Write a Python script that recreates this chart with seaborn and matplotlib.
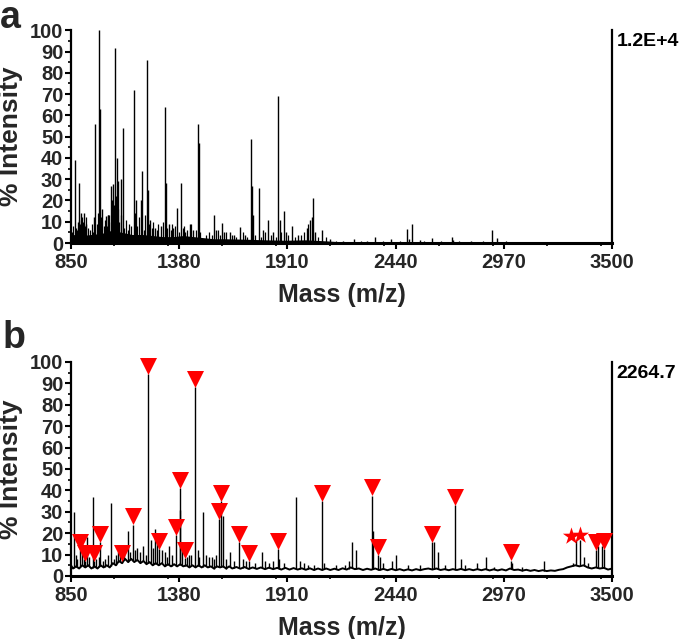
import numpy as np
import pandas as pd
import seaborn as sns
from matplotlib import pyplot as plt
from matplotlib.ticker import MultipleLocator

# ---- panel a : main peaks (m/z, % intensity), full scale 1.2E+4
a_mz = [869, 876, 883, 891, 898, 912, 922, 962, 970, 987, 991, 1004, 1020, 1030,
        1046, 1055, 1066, 1074, 1080, 1093, 1104, 1157, 1168, 1193, 1198, 1222,
        1228, 1239, 1260, 1290, 1311, 1315, 1330, 1350, 1371, 1388, 1410, 1433,
        1450, 1471, 1475, 1550, 1560, 1589, 1600, 1629, 1650, 1676, 1700, 1732,
        1735, 1740, 1769, 1790, 1815, 1840, 1866, 1874, 1892, 1905, 1930, 1960,
        2005, 2020, 2030, 2035, 2045, 2080, 2120, 2180, 2238, 2300, 2340, 2415,
        2494, 2503, 2522, 2560, 2616, 2718, 2722, 2810, 2914, 2936, 3050]
a_int = [39, 7, 10, 28, 14, 14, 9, 12, 56, 100, 63, 16, 12.5, 13,
         27, 27.5, 91.5, 40, 29, 30, 54, 72, 20, 20, 34, 86,
         25, 11, 7, 8, 64, 28, 9, 7, 16.5, 28, 5, 9,
         6, 56, 47, 13, 6, 9.5, 5, 5, 4, 7.5, 4, 49,
         27, 13, 26, 6, 11, 5, 69, 11, 15, 5, 8, 4,
         7, 11, 12, 21, 5, 6, 2, 1, 1.7, 1, 3, 2,
         6.7, 2, 9, 1.5, 2.5, 3, 1.5, 1, 6, 2.3, 0.6]

# panel a : small peaks forming the noise floor
a_minor_mz = [855, 862, 880, 887, 895, 902, 908, 918, 925, 933, 945, 952, 958, 978,
              983, 995, 1010, 1015, 1025, 1033, 1037, 1044, 1052, 1060, 1070, 1078,
              1085, 1095, 1112, 1118, 1128, 1135, 1146, 1163, 1172, 1185, 1206, 1214,
              1233, 1246, 1252, 1270, 1278, 1300, 1322, 1340, 1345, 1360, 1378, 1398,
              1405, 1420, 1440, 1460, 1482, 1510, 1525, 1540, 1570, 1580, 1610, 1640,
              1660, 1690, 1710, 1750, 1780, 1800, 1830, 1855, 1880, 1915, 1945, 1975,
              1990, 2010, 2060, 2100, 2150, 2270, 2380, 2460, 2580, 2660, 2750, 2870,
              2980, 3100, 3200]
a_minor_int = [5, 8, 6, 11, 9, 12, 10, 8, 12, 7, 6, 9, 5, 9,
               14, 12, 8, 11, 8, 13, 13, 10, 20, 18, 22, 16,
               10, 13, 7, 11, 6, 9, 8, 14, 8, 12, 6, 13,
               9, 7, 10, 6, 9, 10, 7, 6, 9, 8, 5, 7,
               8, 6, 9, 6, 5, 4, 5, 4, 6, 4, 5, 4,
               3, 5, 3, 4, 3, 5, 4, 3, 5, 4, 3, 4,
               5, 9, 3, 3, 1, 1, 1, 1, 1, 1, 1, 1,
               1, 0.6, 0.5]

# panel a : dense grass envelope
a_floor_mz = [850, 860, 900, 950, 1000, 1050, 1100, 1150, 1200, 1250, 1300, 1350,
              1400, 1450, 1500, 1550, 1600, 1700, 1800, 1900, 2000, 2100, 2150,
              2200, 2500, 3000, 3500]
a_floor_int = [3, 4, 3.5, 4, 4.5, 6, 5, 4, 4, 3.5, 3, 3,
               3.5, 3, 2.5, 2, 2, 1.8, 1.5, 1.3, 1.5, 1, 0.7,
               0.5, 0.5, 0.4, 0.3]

# ---- panel b : baseline
b_base_mz = [850, 860, 875, 890, 905, 920, 935, 950, 965, 980, 995, 1010, 1025, 1040,
             1055, 1070, 1085, 1100, 1115, 1130, 1145, 1160, 1175, 1190, 1205, 1220,
             1235, 1250, 1265, 1280, 1295, 1310, 1325, 1340, 1355, 1370, 1385, 1400,
             1415, 1430, 1445, 1460, 1475, 1490, 1505, 1520, 1535, 1550, 1565, 1580,
             1595, 1610, 1625, 1640, 1660, 1680, 1700, 1720, 1740, 1760, 1780, 1800,
             1820, 1840, 1860, 1880, 1900, 1920, 1940, 1960, 1980, 2000, 2020, 2040,
             2060, 2080, 2100, 2120, 2140, 2160, 2180, 2200, 2220, 2240, 2260, 2280,
             2300, 2320, 2340, 2360, 2380, 2400, 2420, 2440, 2460, 2480, 2500, 2520,
             2540, 2560, 2580, 2600, 2620, 2640, 2660, 2680, 2700, 2720, 2740, 2760,
             2780, 2800, 2820, 2840, 2860, 2880, 2900, 2920, 2940, 2960, 2980, 3000,
             3020, 3040, 3060, 3080, 3100, 3120, 3140, 3160, 3180, 3200, 3220, 3240,
             3260, 3280, 3300, 3320, 3340, 3360, 3380, 3400, 3420, 3440, 3460, 3480,
             3500]
b_base_int = [5, 3.5, 4.5, 3.5, 5, 4, 5, 3.5, 4.5, 3.5, 5, 4, 5, 4,
              6, 5, 7, 6, 8, 6.5, 8, 6.5, 7.5, 6, 7, 5.5,
              6.5, 5, 6, 5, 6, 4.5, 5.5, 4.5, 5.5, 4.5, 5.5, 4.5,
              5, 4, 5, 4, 5, 4, 5, 4, 4.5, 3.5, 4.5, 4,
              4.5, 3.5, 4.5, 3.5, 4.2, 3.4, 4.2, 3.3, 4, 3.3, 4, 3.2,
              3.9, 3.2, 3.8, 3, 3.8, 3, 3.7, 3, 3.6, 2.9, 3.6, 2.8,
              3.5, 2.8, 3.5, 2.8, 3.4, 2.8, 3.6, 3, 4, 3.2, 3.5, 2.8,
              3.4, 2.9, 3.5, 2.8, 3.3, 2.7, 3.3, 2.7, 3.2, 2.6, 3.1, 2.6,
              3.2, 2.7, 3.2, 3.5, 3, 3.5, 2.8, 3.2, 2.7, 3.2, 2.8, 3.3,
              2.7, 3.2, 2.7, 3.2, 2.7, 3.2, 2.6, 3.1, 2.6, 3.1, 2.6, 3.5,
              2.8, 3, 2.5, 2.9, 2.4, 2.8, 2.3, 2.7, 2.3, 2.6, 2.4, 2.9,
              3.2, 4, 4.5, 5, 4.5, 5, 4, 3.5, 4, 3.5, 3.8, 3,
              3.5]

# panel b : unmarked peaks
b_mz = [865, 873, 880, 906, 912, 930, 940, 956, 972, 985, 1005, 1015, 1030, 1044,
        1060, 1070, 1080, 1090, 1110, 1128, 1140, 1165, 1175, 1190, 1205, 1215,
        1240, 1250, 1262, 1270, 1295, 1310, 1320, 1332, 1345, 1386, 1392, 1420,
        1430, 1440, 1470, 1478, 1496, 1510, 1525, 1540, 1550, 1560, 1593, 1610,
        1630, 1650, 1690, 1705, 1750, 1786, 1800, 1820, 1840, 1870, 1895, 1952,
        1970, 1990, 2010, 2040, 2090, 2150, 2190, 2210, 2227, 2247, 2330, 2363,
        2380, 2423, 2440, 2500, 2560, 2628, 2648, 2680, 2762, 2780, 2840, 2881,
        2920, 3010, 3060, 3168, 3310, 3322, 3345, 3364, 3380, 3431, 3451]
b_int = [30, 10, 8, 17, 8, 18, 9, 37, 8, 9, 7, 8, 10, 34,
         8, 10, 11, 12, 13, 21, 11, 12, 13, 11, 14, 10,
         17, 13, 22, 16, 12, 11, 9, 14, 10, 31, 14, 9,
         10, 10, 12, 9, 30, 10, 9, 9, 8, 10, 28, 8,
         11, 7, 8, 7, 6, 11, 7, 6, 7, 8, 6, 37,
         7, 6, 5, 5, 6, 5, 5, 7, 16, 12, 21, 9,
         6, 7, 10, 5, 5, 16, 11, 5, 8, 5, 6, 9,
         4, 6, 4, 7, 6, 17, 17, 9, 6, 14, 14]

# panel b : peaks marked with red triangles (peak top)
b_tri_mz = [895, 919, 963, 992, 1102, 1156, 1229, 1283, 1365, 1382, 1406, 1458,
            1575, 1584, 1673, 1723, 1864, 2077, 2325, 2355, 2617, 2729, 3004,
            3421, 3462]
b_tri_int = [12, 7, 7, 15.7, 7, 24, 94.3, 12.6, 19.3, 41.2, 8.4, 88.4,
             26.7, 34.8, 15.7, 7, 12.6, 34.8, 37.6, 9.8, 15.75, 33.3, 7.2,
             12.3, 12.6]

# panel b : starred peaks (star centre)
b_star_mz = [3298, 3342]
b_star_int = [18.5, 19]

xticks = [850, 1380, 1910, 2440, 2970, 3500]
yticks = list(range(0, 101, 10))

sns.set_theme(style="ticks")
plt.rcParams['font.family'] = ['Liberation Sans', 'DejaVu Sans']
plt.rcParams['font.weight'] = 'bold'

fig = plt.figure(figsize=(6.85, 6.39), dpi=100)
ax_a = fig.add_axes([0.1036, 0.6197, 0.790, 0.333])
ax_b = fig.add_axes([0.1036, 0.0986, 0.790, 0.335])


def style_axis(ax, scale_txt):
    ax.set_xlim(850, 3500)
    ax.set_ylim(0, 100)
    ax.set_xticks(xticks)
    ax.set_yticks(yticks)
    ax.xaxis.set_minor_locator(MultipleLocator(265))
    ax.yaxis.set_minor_locator(MultipleLocator(5))
    ax.tick_params(axis='both', which='major', length=4, width=1.5,
                   labelsize=14.5, color='black')
    ax.tick_params(axis='x', which='major', pad=3)
    ax.tick_params(axis='y', which='major', pad=1.5)
    ax.tick_params(axis='both', which='minor', length=2.5, width=1.2, color='black')
    for lab in ax.get_xticklabels() + ax.get_yticklabels():
        lab.set_fontweight('bold')
    ax.spines['top'].set_visible(False)
    ax.spines['left'].set_linewidth(1.6)
    ax.spines['bottom'].set_linewidth(2.2)
    ax.spines['right'].set_linewidth(1.6)
    for s in ax.spines.values():
        s.set_color('black')
    ax.set_xlabel("Mass (m/z)", fontsize=18, fontweight='bold', labelpad=8)
    ax.set_ylabel("% Intensity", fontsize=19, fontweight='bold', labelpad=5)
    ax.text(1.008, 0.945, scale_txt, transform=ax.transAxes, ha='left',
            va='center', fontsize=14, fontweight='bold', color='black')
    ax.set_facecolor('white')


# ---- panel a
floor_a = pd.DataFrame({'mz': a_floor_mz, 'int': a_floor_int})
ax_a.fill_between(floor_a['mz'], 0, floor_a['int'], color='black', lw=0)
ax_a.vlines(a_minor_mz, 0, a_minor_int, color='black', lw=0.9)
ax_a.vlines(a_mz, 0, a_int, color='black', lw=1.0)
style_axis(ax_a, "1.2E+4")

# ---- panel b
base_b = pd.DataFrame({'mz': b_base_mz, 'int': b_base_int})
sns.lineplot(data=base_b, x='mz', y='int', ax=ax_b, color='black', lw=1.4)
ax_b.vlines(b_mz, np.interp(b_mz, b_base_mz, b_base_int), b_int,
            color='black', lw=1.0)
ax_b.vlines(b_tri_mz, np.interp(b_tri_mz, b_base_mz, b_base_int), b_tri_int,
            color='black', lw=1.0)
# triangles sit with their tip on the peak top
tri = pd.DataFrame({'mz': b_tri_mz, 'int': np.array(b_tri_int) + 3.8})
sns.scatterplot(data=tri, x='mz', y='int', ax=ax_b, marker='v', s=150,
                color='#ff0000', linewidth=0, zorder=5, clip_on=False)
star = pd.DataFrame({'mz': b_star_mz, 'int': b_star_int})
sns.scatterplot(data=star, x='mz', y='int', ax=ax_b, marker='*', s=170,
                color='#ff0000', linewidth=0, zorder=5)
style_axis(ax_b, "2264.7")

fig.text(0.0, 1.0, "a", fontsize=27, fontweight='bold', va='top', ha='left')
fig.text(0.003, 0.5, "b", fontsize=27, fontweight='bold', va='top', ha='left')

fig.savefig("out.png", dpi=100, facecolor='white')
